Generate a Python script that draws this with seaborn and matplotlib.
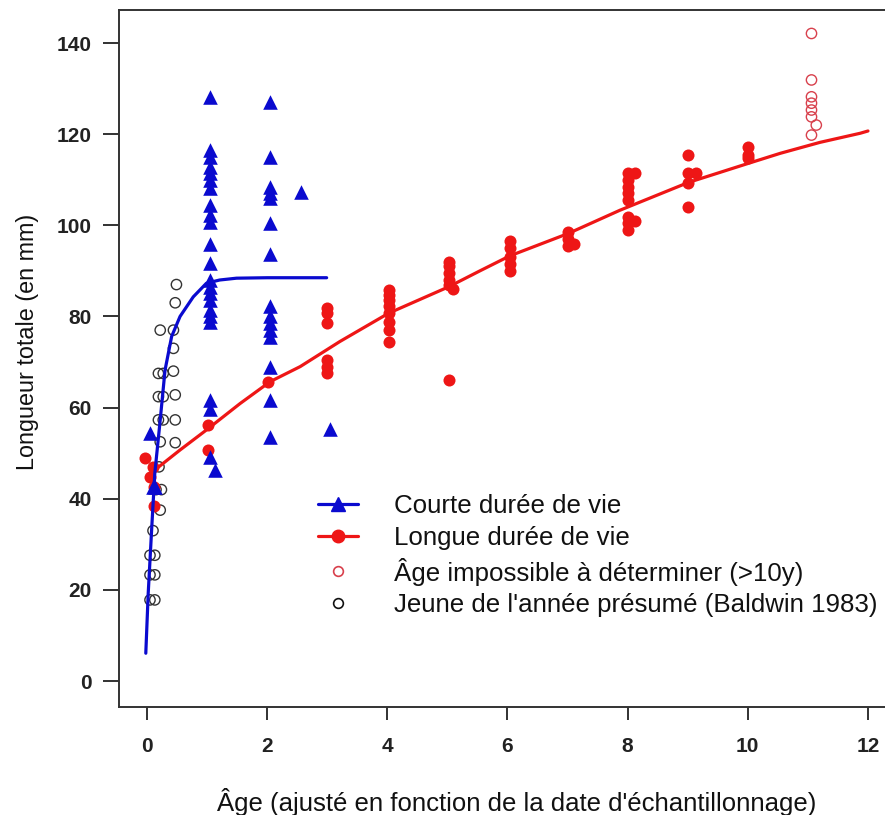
import numpy as np
import pandas as pd
import matplotlib
matplotlib.use("Agg")
import matplotlib.pyplot as plt
from matplotlib.lines import Line2D
import seaborn as sns

# ---------------- data ----------------
# Jeune de l'année présumé (black open circles)
juv_x = [0.49, 0.47, 0.22, 0.44, 0.44, 0.19, 0.27, 0.44, 0.19, 0.27, 0.47,
         0.19, 0.27, 0.47, 0.22, 0.47, 0.24, 0.22, 0.10, 0.05, 0.13, 0.05,
         0.13, 0.05, 0.13, 0.20, 0.15]
juv_y = [87, 83, 77, 77, 73, 67.5, 67.5, 68, 62.4, 62.4, 62.8,
         57.3, 57.3, 57.3, 52.5, 52.3, 42, 37.5, 33, 27.6, 27.6, 23.3,
         23.3, 17.8, 17.8, 47, 42]

# Courte durée de vie (blue triangles)
short_x = [0.05, 0.10, 0.13,
           1.05, 1.05, 1.05, 1.05, 1.05, 1.05, 1.05, 1.05, 1.05, 1.05, 1.05,
           1.05, 1.05, 1.05, 1.05, 1.05, 1.05, 1.05, 1.05, 1.05, 1.05, 1.05,
           1.13,
           2.05, 2.05, 2.05, 2.05, 2.05, 2.05, 2.05, 2.05, 2.05, 2.05, 2.05,
           2.05, 2.05, 2.05, 2.05,
           2.57, 3.05]
short_y = [54.4, 42.6, 42.6,
           128.2, 116.5, 115, 112.9, 111.4, 110, 108.1, 104.5, 102.3, 100.8, 96,
           91.7, 88, 86.5, 85.1, 83.6, 81.4, 80, 78.8, 61.7, 59.8, 49.2,
           46.3,
           127.1, 115, 108.5, 107, 105.9, 100.4, 93.8, 82.2, 80, 78.5, 77,
           75.6, 69, 61.7, 53.6,
           107.4, 55.4]

# Longue durée de vie (red filled circles)
long_x = [-0.03, 0.10, 0.05, 0.12, 0.12,
          1.02, 1.02,
          2.02,
          2.99, 2.99, 2.99, 2.99, 2.99, 2.99,
          4.02, 4.02, 4.02, 4.02, 4.02, 4.02, 4.02, 4.02,
          5.02, 5.02, 5.02, 5.02, 5.02, 5.10, 5.02,
          6.04, 6.04, 6.04, 6.04, 6.04,
          7.0, 7.0, 7.0, 7.1,
          8.01, 8.01, 8.01, 8.01, 8.01, 8.01, 8.01, 8.01, 8.12, 8.12,
          9.01, 9.01, 9.01, 9.01, 9.14,
          10.01, 10.01, 10.01]
long_y = [49, 47, 44.8, 42.5, 38.3,
          56.2, 50.7,
          65.7,
          81.8, 80.7, 78.5, 70.4, 69, 67.5,
          85.8, 84.7, 83.6, 82.2, 80.7, 78.8, 77, 74.5,
          92, 91, 89.5, 88, 87, 86, 66,
          96.5, 95, 93, 91.5, 90,
          98.5, 97, 95.5, 96,
          111.4, 110, 108.5, 107, 105.6, 101.9, 100.4, 99, 111.4, 101,
          115.4, 111.4, 109.3, 104.1, 111.4,
          117.2, 115.4, 114.7]

# Âge impossible à déterminer (>10y) (red open circles)
old_x = [11.06, 11.06, 11.06, 11.06, 11.06, 11.06, 11.14, 11.06]
old_y = [142.1, 131.9, 128.2, 126.8, 125.3, 123.8, 122, 119.8]

# fitted growth curves
short_fit_x = [-0.02, 0.02, 0.08, 0.13, 0.22, 0.30, 0.41, 0.55, 0.77, 0.99,
               1.21, 1.49, 2.0, 2.5, 2.99]
short_fit_y = [6.1, 19.2, 33.9, 45.6, 57.3, 68.2, 75.6, 80.0, 84.3, 87.3,
               88.0, 88.4, 88.5, 88.5, 88.5]
long_fit_x = [0.10, 0.55, 1.0, 1.55, 2.05, 2.55, 3.21, 4.02, 5.02, 5.54,
              6.04, 7.01, 7.87, 9.01, 10.01, 10.54, 11.2, 11.87, 12.0]
long_fit_y = [46.0, 50.7, 55.2, 60.9, 65.7, 69.0, 74.5, 80.7, 86.5, 90.0,
              93.3, 98.2, 103.3, 109.4, 113.6, 115.8, 118.2, 120.2, 120.7]

x_ticks = [0, 2, 4, 6, 8, 10, 12]
y_ticks = [0, 20, 40, 60, 80, 100, 120, 140]

xlabel = "Âge (ajusté en fonction de la date d'échantillonnage)"
ylabel = "Longueur totale (en mm)"
legend_labels = ["Courte durée de vie", "Longue durée de vie",
                 "Âge impossible à déterminer (>10y)",
                 "Jeune de l'année présumé (Baldwin 1983)"]

# ---------------- plotting ----------------
sns.set_style("ticks")
plt.rcParams['font.family'] = ['Liberation Sans', 'DejaVu Sans']

BLUE = "#0A0ACF"
RED = "#EE1616"
RED_OPEN = "#D8404C"
BLACK_OPEN = "#333333"
TXT = "#111111"

fig = plt.figure(figsize=(8.85, 8.15), dpi=100)
ax = fig.add_axes([119 / 885, 1 - 707 / 815, (892 - 119) / 885, (707 - 10) / 815])

df_juv = pd.DataFrame({"x": juv_x, "y": juv_y})
df_short = pd.DataFrame({"x": short_x, "y": short_y})
df_long = pd.DataFrame({"x": long_x, "y": long_y})
df_old = pd.DataFrame({"x": old_x, "y": old_y})
df_sfit = pd.DataFrame({"x": short_fit_x, "y": short_fit_y})
df_lfit = pd.DataFrame({"x": long_fit_x, "y": long_fit_y})

sns.scatterplot(data=df_juv, x="x", y="y", ax=ax, marker="o", s=55,
                facecolor="none", edgecolor=BLACK_OPEN, linewidth=1.0, zorder=2)
sns.scatterplot(data=df_old, x="x", y="y", ax=ax, marker="o", s=55,
                facecolor="none", edgecolor=RED_OPEN, linewidth=1.0, zorder=2)
sns.scatterplot(data=df_long, x="x", y="y", ax=ax, marker="o", s=75,
                color=RED, edgecolor=RED, linewidth=0, zorder=3)
sns.scatterplot(data=df_short, x="x", y="y", ax=ax, marker="^", s=110,
                color=BLUE, edgecolor=BLUE, linewidth=0, zorder=3)
sns.lineplot(data=df_lfit, x="x", y="y", ax=ax, color=RED, linewidth=2.3,
             sort=False, estimator=None, zorder=4)
sns.lineplot(data=df_sfit, x="x", y="y", ax=ax, color=BLUE, linewidth=2.3,
             sort=False, estimator=None, zorder=4)

ax.set_xlim(-0.466, 12.40)
ax.set_ylim(-5.7, 147.25)
ax.set_xticks(x_ticks)
ax.set_yticks(y_ticks)
ax.set_xticklabels([str(t) for t in x_ticks], fontweight="bold")
ax.set_yticklabels([str(t) for t in y_ticks], fontweight="bold")
ax.tick_params(axis="x", direction="out", length=9.5, width=1.3, bottom=True,
               color="#222222", labelsize=15, labelcolor="#222222", pad=12)
ax.tick_params(axis="y", direction="out", length=11.5, width=1.3, left=True,
               color="#222222", labelsize=15, labelcolor="#222222", pad=8)
for sp in ax.spines.values():
    sp.set_linewidth(1.4)
    sp.set_color("#333333")
ax.grid(False)

ax.set_xlabel(xlabel, fontsize=18.5, color=TXT)
ax.xaxis.set_label_coords((517 - 119) / 773, -(788 - 707) / 697)
ax.set_ylabel(ylabel, fontsize=16.8, color=TXT)
ax.yaxis.set_label_coords(-(119 - 39) / 773, (707 - 342) / 697)

handles = [
    Line2D([], [], color=BLUE, linewidth=2.3, marker="^", markersize=10),
    Line2D([], [], color=RED, linewidth=2.3, marker="o", markersize=9),
    Line2D([], [], color=RED_OPEN, linewidth=0, marker="o", markersize=7,
           markerfacecolor="none", markeredgewidth=1.2),
    Line2D([], [], color="#111111", linewidth=0, marker="o", markersize=7,
           markerfacecolor="none", markeredgewidth=1.2),
]
leg = ax.legend(handles, legend_labels, loc="upper left",
                bbox_to_anchor=(318 / 885, 1 - 494 / 815),
                bbox_transform=fig.transFigure, frameon=False,
                fontsize=18.6, handlelength=1.55, handletextpad=1.4,
                labelspacing=0.3, borderaxespad=0, borderpad=0)
for t in leg.get_texts():
    t.set_color(TXT)

fig.savefig("out.png", dpi=100)
